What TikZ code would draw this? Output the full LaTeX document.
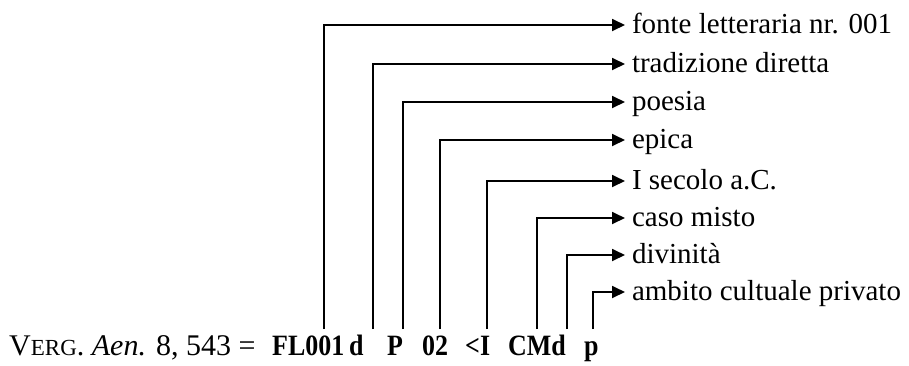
\documentclass[tikz,border=0pt]{standalone}
\usepackage{fontspec}
\setmainfont{Liberation Serif}
\usetikzlibrary{arrows.meta}
\newcommand{\condensed}[1]{\scalebox{0.88}[1]{#1}}
\begin{document}
\begin{tikzpicture}[x=1pt,y=-1pt,
  conn/.style={line width=1.8pt, -{Triangle[length=13pt,width=12pt]}},
  lbl/.style={anchor=west, inner sep=0pt, outer xsep=7pt, text height=17pt, text depth=0pt, font=\fontsize{29}{33}\selectfont},
  code/.style={anchor=base west, inner sep=0pt, font=\fontsize{29.5}{33}\selectfont\bfseries},
  ref/.style={anchor=base west, inner sep=0pt, font=\fontsize{30}{34}\selectfont}]
\useasboundingbox (0,0) rectangle (909,365);
% bottom text
\node[ref] (src) at (9,355) {V{\fontsize{23}{26}\selectfont ERG}. \textit{Aen.} 8, 543 =};
\node[code] (k1) at (272,355) {\condensed{FL001}};
\node[code] (k2) at (349,355) {\condensed{d}};
\node[code] (k3) at (387,355) {\condensed{P}};
\node[code] (k4) at (422,355) {\condensed{02}};
\node[code] (k5) at (465,355) {\condensed{<I}};
\node[code] (k6) at (508,355) {\condensed{CMd}};
\node[code] (k7) at (584,355) {\condensed{p}};
% labels
\node[lbl] (l1) at (625,25) {fonte letteraria nr. 001};
\node[lbl] (l2) at (625,64) {tradizione diretta};
\node[lbl] (l3) at (625,102) {poesia};
\node[lbl] (l4) at (625,140) {epica};
\node[lbl] (l5) at (625,181) {I secolo a.C.};
\node[lbl] (l6) at (625,218) {caso misto};
\node[lbl] (l7) at (625,255) {divinità};
\node[lbl] (l8) at (625,292) {ambito cultuale privato};
% feet of connectors
\coordinate (c1) at (324,329);
\coordinate (c2) at (373,329);
\coordinate (c3) at (403,329);
\coordinate (c4) at (440,329);
\coordinate (c5) at (487,329);
\coordinate (c6) at (537,329);
\coordinate (c7) at (567,329);
\coordinate (c8) at (593,329);
\foreach \i in {1,...,8}{\draw[conn] (c\i) |- (l\i.west);}
\end{tikzpicture}
\end{document}
